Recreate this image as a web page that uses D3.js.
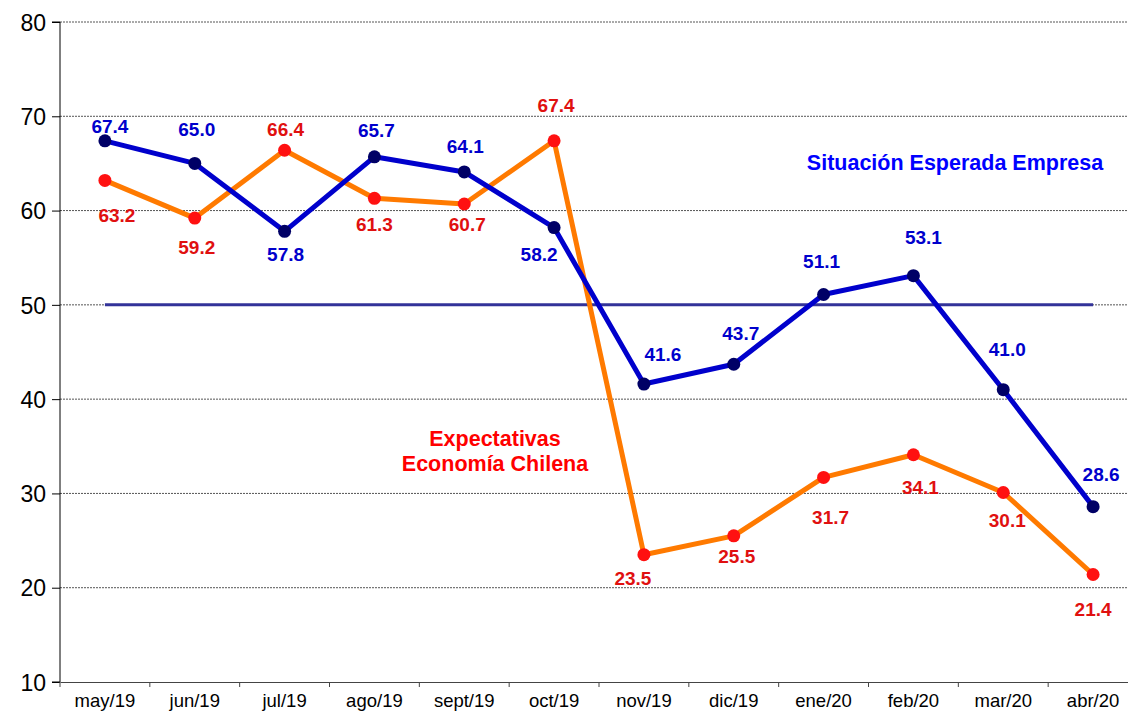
<!DOCTYPE html>
<html>
<head>
<meta charset="utf-8">
<script src="https://cdn.jsdelivr.net/npm/d3@7"></script>
<style>
  body { margin: 0; background: #fff; }
  svg { display: block; font-family: "Liberation Sans", Arial, sans-serif; }
</style>
</head>
<body>
<div id="chart"></div>
<script>
// Data
const months = ['may/19', 'jun/19', 'jul/19', 'ago/19', 'sept/19', 'oct/19',
                'nov/19', 'dic/19', 'ene/20', 'feb/20', 'mar/20', 'abr/20'];
const empresa = [67.4, 65.0, 57.8, 65.7, 64.1, 58.2, 41.6, 43.7, 51.1, 53.1, 41.0, 28.6];
const economia = [63.2, 59.2, 66.4, 61.3, 60.7, 67.4, 23.5, 25.5, 31.7, 34.1, 30.1, 21.4];
const yTicks = [10, 20, 30, 40, 50, 60, 70, 80];
const neutral = 50;

// Layout: where each value label sits relative to its point (px, label centre)
const empresaLabelOffset = [[5, -15], [2, -34], [1, 23], [2, -27], [1, -26], [-15, 27],
                            [19, -30], [7, -31], [-2, -33], [10, -38], [4, -41], [8, -32]];
const economiaLabelOffset = [[12, 35], [2, 29], [1, -21], [0, 26], [3, 20], [2, -36],
                             [-11, 23], [3, 20], [7, 40], [7, 32], [4, 28], [0, 35]];

const WIDTH = 1128, HEIGHT = 713;
const MARGIN = { left: 60, top: 22, right: 0, bottom: 31 };
const PLOT_W = 1078; // the plot runs past the right edge, like the original
const PLOT_H = HEIGHT - MARGIN.top - MARGIN.bottom;

const svg = d3.select('#chart').append('svg')
    .attr('width', WIDTH)
    .attr('height', HEIGHT);

const g = svg.append('g')
    .attr('transform', `translate(${MARGIN.left}, ${MARGIN.top})`);

const xScale = d3.scaleBand()
    .domain(months)
    .range([0, PLOT_W]);

const yScale = d3.scaleLinear()
    .domain([10, 80])
    .range([PLOT_H, 0]);

const xc = d => xScale(d) + xScale.bandwidth() / 2;

// grid lines
g.append('g')
    .selectAll('line')
    .data(yTicks.filter(t => t > 10))
    .enter()
    .append('line')
    .attr('x1', 0)
    .attr('x2', PLOT_W)
    .attr('y1', d => yScale(d))
    .attr('y2', d => yScale(d))
    .attr('stroke', '#555')
    .attr('stroke-width', 1)
    .attr('stroke-dasharray', '2,1');

// y axis
const yAxis = g.append('g')
    .call(d3.axisLeft(yScale).tickValues(yTicks).tickSize(8).tickPadding(6).tickFormat(d3.format('d')));
yAxis.selectAll('text').attr('font-size', 23).attr('fill', '#000').attr('dy', '0.36em');
yAxis.select('.domain').attr('stroke', '#000').attr('d', `M-8,${PLOT_H}H0V0H-8`);
yAxis.selectAll('.tick line').attr('stroke', '#000');

// x axis
const xAxis = g.append('g')
    .attr('transform', `translate(0, ${PLOT_H})`)
    .call(d3.axisBottom(xScale).tickSize(0).tickPadding(12));
xAxis.select('.domain').attr('stroke', '#444');
xAxis.selectAll('text').attr('font-size', 18.5).attr('fill', '#000');
// tick marks on band edges
xAxis.selectAll('.edge')
    .data(months)
    .enter()
    .append('line')
    .attr('class', 'edge')
    .attr('x1', d => xScale(d))
    .attr('x2', d => xScale(d))
    .attr('y1', 0)
    .attr('y2', 5)
    .attr('stroke', '#444');

// neutral line at 50
g.append('line')
    .attr('x1', xc(months[0]))
    .attr('x2', xc(months[months.length - 1]))
    .attr('y1', yScale(neutral))
    .attr('y2', yScale(neutral))
    .attr('stroke', '#333399')
    .attr('stroke-width', 3);

const line = d3.line()
    .x((d, i) => xc(months[i]))
    .y(d => yScale(d));

function drawSeries(values, offsets, lineColor, dotColor, textColor) {
    g.append('path')
        .datum(values)
        .attr('d', line)
        .attr('fill', 'none')
        .attr('stroke', lineColor)
        .attr('stroke-width', 5)
        .attr('stroke-linejoin', 'round');

    g.append('g')
        .selectAll('circle')
        .data(values)
        .enter()
        .append('circle')
        .attr('cx', (d, i) => xc(months[i]))
        .attr('cy', d => yScale(d))
        .attr('r', 6.5)
        .attr('fill', dotColor);

    g.append('g')
        .selectAll('text')
        .data(values)
        .enter()
        .append('text')
        .attr('x', (d, i) => xc(months[i]) + offsets[i][0])
        .attr('y', (d, i) => yScale(d) + offsets[i][1])
        .attr('dy', '0.36em')
        .attr('text-anchor', 'middle')
        .attr('font-size', 19)
        .attr('font-weight', 'bold')
        .attr('fill', textColor)
        .text(d => d.toFixed(1));
}

drawSeries(economia, economiaLabelOffset, '#FF7A00', '#FF1111', '#E01010');
drawSeries(empresa, empresaLabelOffset, '#0000CC', '#000066', '#0000CC');

// series names
svg.append('text')
    .attr('x', 955)
    .attr('y', 170)
    .attr('text-anchor', 'middle')
    .attr('font-size', 21.5)
    .attr('font-weight', 'bold')
    .attr('fill', '#0000FF')
    .text('Situación Esperada Empresa');

const econLabel = svg.append('text')
    .attr('text-anchor', 'middle')
    .attr('font-size', 21.5)
    .attr('font-weight', 'bold')
    .attr('fill', '#FF0000');
econLabel.append('tspan').attr('x', 495).attr('y', 446).text('Expectativas');
econLabel.append('tspan').attr('x', 495).attr('y', 471).text('Economía Chilena');
</script>
</body>
</html>
